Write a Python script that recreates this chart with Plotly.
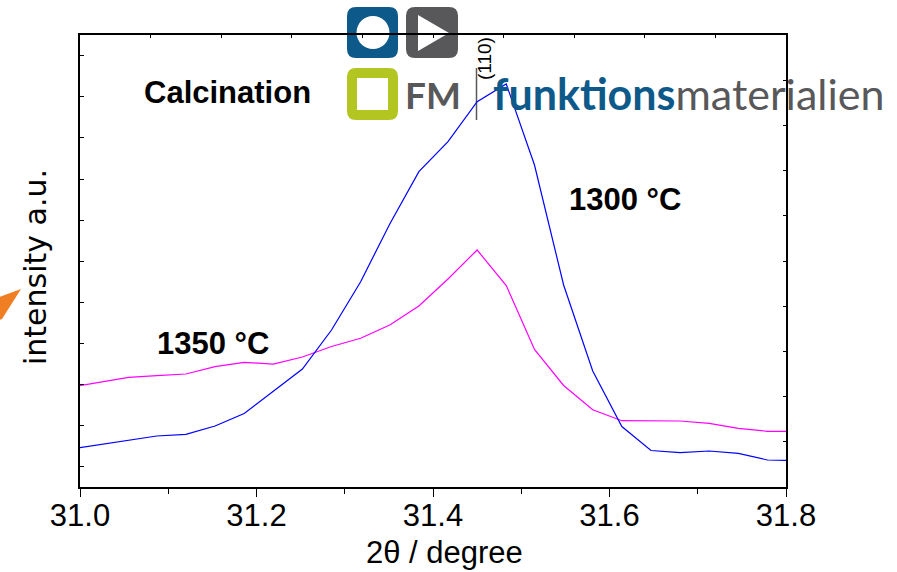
import plotly.graph_objects as go

# XRD scan around the (110) reflection, two calcination temperatures
two_theta = [30.989, 31.022, 31.055, 31.087, 31.120, 31.153, 31.186, 31.219,
             31.252, 31.285, 31.318, 31.351, 31.384, 31.417, 31.450, 31.483,
             31.515, 31.548, 31.581, 31.614, 31.647, 31.680, 31.713, 31.746,
             31.779, 31.812]
int_1300 = [38.0, 42.5, 47.0, 51.0, 52.7, 61.0, 73.5, 95.3, 118.0, 157.0,
            205.3, 263.0, 315.3, 345.3, 385.3, 403.0, 322.0, 202.0, 116.0,
            60.5, 36.5, 34.3, 36.0, 33.7, 27.0, 26.5]
int_1350 = [99.8, 104.5, 109.7, 111.4, 113.0, 120.3, 124.7, 122.8, 130.0,
            140.5, 148.7, 162.0, 181.0, 208.0, 237.0, 201.5, 137.5, 101.5,
            77.3, 66.3, 66.3, 66.0, 63.7, 58.7, 55.7, 55.5]
x_ticks = [31.0, 31.2, 31.4, 31.6, 31.8]
x_labels = ["31.0", "31.2", "31.4", "31.6", "31.8"]

W, H = 897, 572
L, R, T, B = 80, 111, 35, 85
PW, PH = W - L - R, H - T - B


def px(x):
    return (x - L) / PW


def py(y):
    return (H - B - y) / PH


def rounded_rect(x0, y0, x1, y1, r):
    X0, X1 = px(x0), px(x1)
    Y0, Y1 = py(y0), py(y1)
    rx, ry = r / PW, r / PH
    return (f"M{X0 + rx},{Y0} L{X1 - rx},{Y0} Q{X1},{Y0} {X1},{Y0 - ry} "
            f"L{X1},{Y1 + ry} Q{X1},{Y1} {X1 - rx},{Y1} L{X0 + rx},{Y1} "
            f"Q{X0},{Y1} {X0},{Y1 + ry} L{X0},{Y0 - ry} Q{X0},{Y0} {X0 + rx},{Y0} Z")


BLUE_LOGO = "#0d5a8a"
GRAY_LOGO = "#58585a"
GREEN_LOGO = "#b3c520"
ARIAL = "Arial, Liberation Sans"

fig = go.Figure()
fig.add_trace(go.Scatter(x=two_theta, y=int_1350, mode="lines",
                         line=dict(color="#ff00ff", width=1.2),
                         name="1350 °C", showlegend=False))
fig.add_trace(go.Scatter(x=two_theta, y=int_1300, mode="lines",
                         line=dict(color="#0000ff", width=1.2),
                         name="1300 °C", showlegend=False))
# empty trace so the mirrored frame axes are drawn
fig.add_trace(go.Scatter(x=[], y=[], xaxis="x2", yaxis="y2", showlegend=False))

shapes = [
    # logo tiles
    dict(type="path", path=rounded_rect(347, 7, 398, 58, 9), fillcolor=BLUE_LOGO,
         line=dict(width=0), xref="paper", yref="paper", layer="below"),
    dict(type="circle", x0=px(356.5), x1=px(389.5), y0=py(16), y1=py(49),
         fillcolor="white", line=dict(width=0), xref="paper", yref="paper", layer="below"),
    dict(type="path", path=rounded_rect(406, 7, 458, 58, 9), fillcolor=GRAY_LOGO,
         line=dict(width=0), xref="paper", yref="paper", layer="below"),
    dict(type="path",
         path=f"M{px(418)},{py(15)} L{px(449)},{py(33)} L{px(418)},{py(51)} Z",
         fillcolor="white", line=dict(width=0), xref="paper", yref="paper", layer="below"),
    dict(type="path", path=rounded_rect(347, 68, 398, 120, 9), fillcolor=GREEN_LOGO,
         line=dict(width=0), xref="paper", yref="paper", layer="below"),
    dict(type="rect", x0=px(357), x1=px(388), y0=py(78), y1=py(110),
         fillcolor="white", line=dict(width=0), xref="paper", yref="paper", layer="below"),
    dict(type="line", x0=px(476.5), x1=px(476.5), y0=py(68), y1=py(120),
         line=dict(color=GRAY_LOGO, width=1.5), xref="paper", yref="paper", layer="below"),
    # orange pointer at the left edge
    dict(type="path",
         path=f"M{px(-6)},{py(299)} L{px(21)},{py(289)} L{px(2)},{py(319)} L{px(-6)},{py(322)} Z",
         fillcolor="#f07f24", line=dict(width=0), xref="paper", yref="paper", layer="below"),
]

annotations = [
    dict(text="<b>FM</b>", x=px(433), y=py(94), xanchor="center", yanchor="middle",
         font=dict(family="Lato", size=37, color=GRAY_LOGO)),
    dict(text=f"<b>funktions</b><span style='color:{GRAY_LOGO}'>materialien</span>",
         x=px(491), y=py(93), xanchor="left", yanchor="middle",
         font=dict(family="Lato", size=43, color=BLUE_LOGO)),
    dict(text="(110)", x=px(485), y=py(59), xanchor="center", yanchor="middle",
         textangle=-90, font=dict(family=ARIAL, size=19, color="black")),
    dict(text="<b>Calcination</b>", x=px(227), y=py(92), xanchor="center", yanchor="middle",
         font=dict(family=ARIAL, size=31, color="black")),
    dict(text="<b>1350 °C</b>", x=px(213), y=py(343), xanchor="center", yanchor="middle",
         font=dict(family=ARIAL, size=31, color="black")),
    dict(text="<b>1300 °C</b>", x=px(625), y=py(199), xanchor="center", yanchor="middle",
         font=dict(family=ARIAL, size=31, color="black")),
    dict(text="intensity a.u.", x=px(35), y=py(267), xanchor="center", yanchor="middle",
         textangle=-90, font=dict(family="DejaVu Sans", size=30, color="black")),
    dict(text="2θ / degree", x=px(444), y=py(552), xanchor="center", yanchor="middle",
         font=dict(family=ARIAL, size=31, color="black")),
]
for a in annotations:
    a.update(xref="paper", yref="paper", showarrow=False)

fig.update_layout(
    width=W, height=H,
    margin=dict(l=L, r=R, t=T, b=B, pad=0),
    paper_bgcolor="white", plot_bgcolor="rgba(0,0,0,0)",
    showlegend=False,
    shapes=shapes, annotations=annotations,
    xaxis=dict(range=[31.0, 31.8], tickvals=x_ticks, ticktext=x_labels,
               ticks="outside", ticklen=8, tickwidth=1.3, tickcolor="black",
               minor=dict(dtick=0.1, tick0=31.0, ticks="outside", ticklen=5,
                          tickwidth=1.3, tickcolor="black"),
               showline=True, linecolor="black", linewidth=2, showgrid=False,
               zeroline=False, ticklabelstandoff=-8,
               tickfont=dict(family=ARIAL, size=31, color="black")),
    yaxis=dict(range=[0, 452], showticklabels=False, ticks="inside", tick0=20.3,
               dtick=41.1, ticklen=4, tickwidth=1, tickcolor="black",
               showline=True, linecolor="black", linewidth=2, showgrid=False,
               zeroline=False),
    xaxis2=dict(overlaying="x", side="top", range=[0, 10], dtick=1, ticks="inside",
                ticklen=3, tickwidth=1, tickcolor="black", showticklabels=False,
                showline=True, linecolor="black", linewidth=2, showgrid=False,
                zeroline=False),
    yaxis2=dict(overlaying="y", side="right", range=[0, 10], dtick=1, ticks="inside",
                ticklen=3, tickwidth=1, tickcolor="black", showticklabels=False,
                showline=True, linecolor="black", linewidth=2, showgrid=False,
                zeroline=False),
)

fig.write_html("out.html")
